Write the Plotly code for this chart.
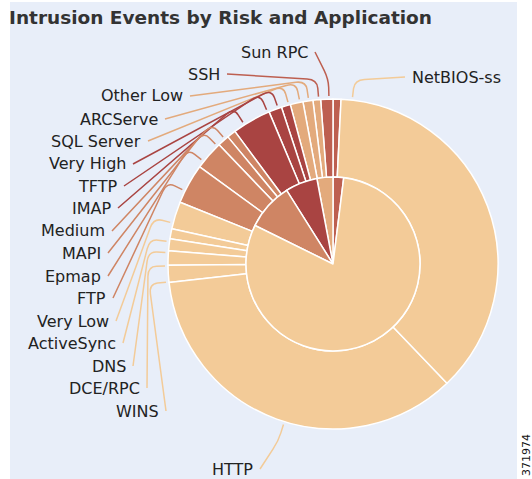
import math
import plotly.graph_objects as go

# ---------------- data ----------------
risk_levels = ["High", "Low", "Very High", "Medium", "Very Low"]
risk_colors = ["#bd5f50", "#e3aa7c", "#a94442", "#cf8564", "#f3cb98"]

apps = ["Sun RPC", "SSH", "Other Low", "ARCServe", "SQL Server",
        "Very High", "TFTP", "IMAP",
        "Medium", "MAPI", "Epmap", "FTP",
        "Very Low", "ActiveSync", "DNS", "DCE/RPC", "WINS", "HTTP", "NetBIOS-ss"]
app_risk = ["High", "High", "Low", "Low", "Low",
            "Very High", "Very High", "Very High",
            "Medium", "Medium", "Medium", "Medium",
            "Very Low", "Very Low", "Very Low", "Very Low", "Very Low", "Very Low", "Very Low"]
app_events = [28, 43, 27, 35, 45,
              32, 46, 137,
              31, 41, 102, 141,
              97, 35, 42, 50, 60, 1273, 1335]

risk_events = [sum(v for v, r in zip(app_events, app_risk) if r == lvl) for lvl in risk_levels]
color_of = dict(zip(risk_levels, risk_colors))
app_colors = [color_of[r] for r in app_risk]

title_text = "Intrusion Events by Risk and Application"

# ---------------- layout geometry ----------------
W, H = 532, 479
CX, CY = 333, 264
R_OUT, R_IN = 165, 87
BEND = 20

# label placement: (x px, y px, side, anchor fraction within slice)
label_pos = {
    "Sun RPC": (310, 52, "right", 0.5),
    "SSH": (222, 74, "right", 0.5),
    "Other Low": (185, 96, "right", 0.5),
    "ARCServe": (160, 119, "right", 0.5),
    "SQL Server": (143, 141, "right", 0.5),
    "Very High": (128, 164, "right", 0.5),
    "TFTP": (119, 186, "right", 0.5),
    "IMAP": (113, 208, "right", 0.5),
    "Medium": (107, 231, "right", 0.5),
    "MAPI": (103, 253, "right", 0.5),
    "Epmap": (103, 276, "right", 0.5),
    "FTP": (108, 298, "right", 0.5),
    "Very Low": (111, 321, "right", 0.5),
    "ActiveSync": (118, 343, "right", 0.5),
    "DNS": (128, 366, "right", 0.5),
    "DCE/RPC": (142, 388, "right", 0.5),
    "WINS": (161, 411, "right", 0.5),
    "HTTP": (255, 469, "right", 0.5),
    "NetBIOS-ss": (410, 77, "left", 0.95),
}


def px(x):
    return x / W


def py(y):
    return 1 - y / H


fig = go.Figure()

# outer ring: applications
fig.add_trace(go.Pie(
    labels=apps, values=app_events, sort=False, direction="counterclockwise", rotation=0,
    hole=R_IN / R_OUT, textinfo="none", showlegend=False,
    marker=dict(colors=app_colors, line=dict(color="white", width=1.5)),
    domain=dict(x=[px(CX - R_OUT), px(CX + R_OUT)], y=[py(CY + R_OUT), py(CY - R_OUT)]),
    hovertemplate="%{label}: %{value}<extra></extra>",
))
# inner pie: risk levels
fig.add_trace(go.Pie(
    labels=risk_levels, values=risk_events, sort=False, direction="counterclockwise", rotation=0,
    textinfo="none", showlegend=False,
    marker=dict(colors=risk_colors, line=dict(color="white", width=1.5)),
    domain=dict(x=[px(CX - R_IN), px(CX + R_IN)], y=[py(CY + R_IN), py(CY - R_IN)]),
    hovertemplate="%{label}: %{value}<extra></extra>",
))

shapes = []
# panel background
shapes.append(dict(type="rect", xref="paper", yref="paper", x0=px(10), x1=px(517), y0=0, y1=py(2),
                   fillcolor="#e8eef9", line=dict(width=0), layer="below"))

annotations = []
total = sum(app_events)
cum = 0
for name, val, col in zip(apps, app_events, app_colors):
    lx, ly, side, frac = label_pos[name]
    ang = math.radians(360.0 * (cum + frac * val) / total)
    cum += val
    sx = lx + 5 if side == "right" else lx - 5
    sy = ly
    bx = CX - (R_OUT + BEND) * math.sin(ang)
    by = CY - (R_OUT + BEND) * math.cos(ang)
    ex = CX - (R_OUT + 3) * math.sin(ang)
    ey = CY - (R_OUT + 3) * math.cos(ang)
    d = math.hypot(sx - bx, sy - by)
    t = min(1.0, 10.0 / d) if d > 0 else 0
    ax, ay = bx + (sx - bx) * t, by + (sy - by) * t
    cx2, cy2 = bx + (ex - bx) * 0.5, by + (ey - by) * 0.5
    path = (f"M {px(sx)} {py(sy)} L {px(ax)} {py(ay)} Q {px(bx)} {py(by)} {px(cx2)} {py(cy2)} "
            f"L {px(ex)} {py(ey)}")
    shapes.append(dict(type="path", xref="paper", yref="paper", path=path,
                       line=dict(color=col, width=1.5)))
    annotations.append(dict(x=px(lx), y=py(ly), xref="paper", yref="paper", text=name,
                            showarrow=False, xanchor=side if side == "left" else "right",
                            yanchor="middle",
                            font=dict(family="DejaVu Sans", size=16, color="#222222")))

annotations.append(dict(x=px(7), y=py(17), xref="paper", yref="paper", text="<b>" + title_text + "</b>",
                        showarrow=False, xanchor="left", yanchor="middle",
                        font=dict(family="DejaVu Sans", size=18.5, color="#333333")))
annotations.append(dict(x=px(526), y=py(432), xref="paper", yref="paper", text="371974",
                        showarrow=False, xanchor="center", yanchor="top", textangle=-90,
                        font=dict(family="DejaVu Sans", size=11, color="#111111")))

fig.update_layout(
    width=W, height=H, margin=dict(l=0, r=0, t=0, b=0),
    paper_bgcolor="white", plot_bgcolor="white",
    shapes=shapes, annotations=annotations,
)

fig.write_html("out.html", config={"displayModeBar": False},
               post_script="document.body.style.margin='0';")
